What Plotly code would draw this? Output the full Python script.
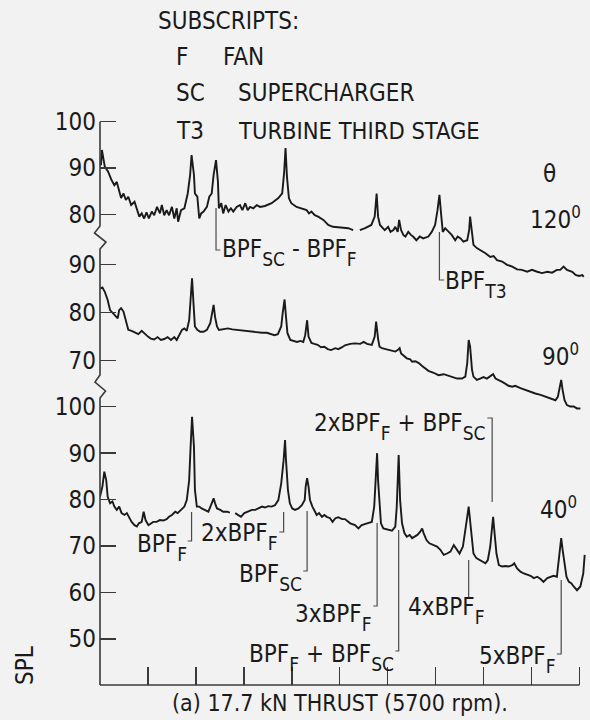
import plotly.graph_objects as go

# ---------------- data (frequency in kHz, SPL in dB) ----------------
freq_120 = [0.02,0.04,0.10,0.17,0.24,0.30,0.35,0.40,0.44,0.49,
            0.54,0.59,0.65,0.72,0.77,0.82,0.87,0.92,0.97,1.02,
            1.08,1.13,1.19,1.25,1.29,1.34,1.39,1.44,1.50,1.55,
            1.60,1.63,1.69,1.76,1.83,1.88,1.91,1.96,1.98,2.03,
            2.07,2.11,2.16,2.23,2.28,2.33,2.37,2.42,2.46,2.48,
            2.53,2.57,2.62,2.68,2.73,2.78,2.85,2.92,2.97,3.03,
            3.08,3.13,3.20,3.27,3.34,3.44,3.58,3.72,3.80,3.84,
            3.87,3.90,3.94,3.99,4.10,4.20,4.31,4.36,4.41,4.48,
            4.55,4.66,4.76,4.86,4.97,5.07,5.18,5.28,5.35,5.42,
            5.53,5.66,5.73,5.77,5.80,5.84,5.89,5.94,6.01,6.06,
            6.12,6.16,6.21,6.24,6.28,6.33,6.37,6.43,6.49,6.53,
            6.60,6.67,6.74,6.85,6.92,6.99,7.04,7.08,7.12,7.15,
            7.20,7.27,7.34,7.41,7.46,7.52,7.58,7.66,7.70,7.72,
            7.76,7.79,7.86,7.93,8.04,8.14,8.21,8.28,8.39,8.49,
            8.60,8.70,8.80,8.91,9.01,9.12,9.22,9.33,9.43,9.53,
            9.60,9.67,9.74,9.85,9.92,9.99,10.06,10.09]
spl_120 = [90.6,93.9,90.3,89.2,87.4,86.3,87.0,84.9,83.5,84.5,
           83.1,83.8,82.0,82.7,81.3,79.5,80.2,79.1,80.4,79.1,
           80.6,79.8,81.6,80.2,82.0,79.8,80.9,79.8,81.6,79.1,
           81.3,78.4,80.9,81.3,84.5,88.5,92.8,88.5,84.5,83.8,
           79.1,80.2,80.6,81.6,83.8,84.5,88.5,91.7,87.0,81.3,
           82.4,80.2,82.0,80.6,81.3,80.6,81.6,82.0,80.9,82.4,
           80.9,81.6,81.3,82.0,81.6,81.8,82.4,83.5,84.5,88.9,
           94.3,88.1,83.5,82.4,81.6,81.3,80.9,80.2,80.6,79.8,
           79.5,78.8,77.7,77.3,77.2,77.0,77.0,76.6,None,76.6,
           77.0,77.7,79.5,84.5,79.5,77.7,77.2,76.6,77.3,76.2,
           76.6,77.3,76.2,78.8,76.6,75.5,75.2,76.2,75.5,75.2,
           74.4,75.2,74.8,75.2,76.2,77.7,80.9,84.2,79.5,76.2,
           77.0,76.2,75.5,74.4,75.2,74.8,74.1,74.4,76.6,79.5,
           75.9,73.4,72.7,72.3,71.6,70.8,71.0,70.1,69.8,69.1,
           68.7,68.1,68.0,67.6,68.0,67.6,67.3,67.6,67.4,68.0,
           68.0,68.7,68.0,67.6,66.9,66.7,66.9,66.5]

freq_90 = [0.00,0.05,0.10,0.16,0.21,0.28,0.33,0.37,0.40,0.44,
           0.49,0.54,0.59,0.66,0.73,0.80,0.87,0.92,1.00,1.06,
           1.13,1.20,1.27,1.34,1.41,1.48,1.55,1.60,1.65,1.71,
           1.76,1.81,1.86,1.89,1.92,1.95,1.98,2.03,2.09,2.16,
           2.23,2.30,2.33,2.37,2.40,2.44,2.48,2.57,2.67,2.76,
           2.85,2.96,3.06,3.17,3.27,3.38,3.48,3.58,3.64,3.71,
           3.78,3.81,3.85,3.88,3.91,3.97,4.04,4.11,4.18,4.24,
           4.28,4.32,4.35,4.41,4.47,4.54,4.61,4.68,4.75,4.82,
           4.91,4.97,5.05,5.11,5.22,5.32,5.43,5.50,5.57,5.67,
           5.73,5.76,5.80,5.83,5.88,5.95,6.05,6.16,6.21,6.25,
           6.28,6.33,6.40,6.47,6.51,6.58,6.65,6.72,6.78,6.85,
           6.96,7.06,7.17,7.24,7.34,7.45,7.55,7.62,7.66,7.69,
           7.72,7.76,7.79,7.86,7.93,8.00,8.07,8.14,8.20,8.25,
           8.32,8.39,8.46,8.52,8.60,8.66,8.77,8.87,8.98,9.08,
           9.19,9.29,9.39,9.50,9.55,9.59,9.62,9.65,9.69,9.74,
           9.81,9.88,9.95,10.02]
spl_90 = [85.0,85.2,84.3,82.6,80.5,79.8,79.1,78.8,80.5,80.9,
          80.2,78.4,76.4,76.2,75.8,75.5,76.2,75.7,75.0,74.6,
          74.4,74.9,74.3,74.5,74.9,74.3,74.9,74.3,75.3,76.4,
          76.7,76.2,78.4,82.6,87.1,81.9,77.1,76.4,76.0,76.0,
          76.4,77.8,79.8,81.6,79.1,77.1,76.4,76.5,76.7,76.5,
          76.4,76.2,76.2,76.0,76.0,75.8,75.8,75.5,75.3,75.5,
          77.1,79.8,82.7,79.1,75.7,74.3,74.1,73.9,74.1,73.9,
          75.3,78.4,75.0,73.7,73.5,73.3,72.8,72.9,72.4,72.2,
          72.6,72.4,72.8,73.2,73.5,73.6,73.5,73.9,73.5,73.3,
          75.0,78.1,74.6,72.9,72.6,72.4,72.2,71.9,72.2,72.6,
          71.5,71.0,70.5,70.3,69.8,69.9,69.5,68.9,68.4,67.9,
          67.5,67.0,67.2,67.0,66.7,66.3,66.3,66.7,69.5,74.3,
          72.9,68.1,66.7,66.0,66.3,66.6,66.3,66.7,67.2,66.3,
          66.0,65.6,65.2,64.8,64.6,64.8,64.3,63.9,63.6,63.2,
          62.9,62.5,62.2,61.8,62.5,64.6,66.0,63.9,61.8,60.8,
          60.5,60.5,60.1,60.1]

freq_40 = [0.00,0.05,0.09,0.13,0.16,0.21,0.26,0.30,0.35,0.40,
           0.45,0.51,0.56,0.61,0.66,0.72,0.77,0.81,0.87,0.91,
           0.95,1.01,1.06,1.11,1.18,1.25,1.32,1.39,1.44,1.50,
           1.57,1.62,1.69,1.76,1.81,1.86,1.89,1.92,1.96,1.98,
           2.02,2.07,2.12,2.19,2.26,2.33,2.37,2.40,2.44,2.51,
           2.57,2.65,2.71,2.76,2.82,2.89,2.94,3.01,3.10,3.17,
           3.24,3.30,3.38,3.44,3.51,3.58,3.65,3.72,3.78,3.83,
           3.86,3.88,3.92,3.96,4.01,4.07,4.14,4.21,4.27,4.29,
           4.32,4.35,4.38,4.43,4.47,4.52,4.57,4.63,4.68,4.73,
           4.80,4.85,4.91,4.97,5.05,5.11,5.22,5.32,5.39,5.46,
           5.57,5.67,5.72,5.75,5.78,5.80,5.83,5.86,5.91,6.00,
           6.09,6.16,6.19,6.23,6.26,6.30,6.35,6.40,6.46,6.51,
           6.56,6.62,6.68,6.72,6.75,6.81,6.87,6.95,7.03,7.10,
           7.17,7.24,7.31,7.38,7.43,7.50,7.57,7.62,7.66,7.69,
           7.72,7.76,7.79,7.85,7.92,7.99,8.04,8.09,8.14,8.18,
           8.20,8.23,8.27,8.32,8.39,8.46,8.52,8.60,8.64,8.70,
           8.77,8.84,8.91,8.98,9.05,9.12,9.19,9.25,9.33,9.39,
           9.46,9.53,9.57,9.60,9.62,9.65,9.69,9.73,9.78,9.83,
           9.88,9.95,10.02,10.08,10.11]
spl_40 = [80.6,82.8,86.0,84.2,80.6,79.2,79.6,78.5,77.8,78.5,
          77.1,76.7,77.1,76.0,75.2,74.5,74.2,74.9,75.2,77.4,
          75.6,74.5,74.9,75.2,75.2,75.6,75.5,75.8,76.3,76.7,
          77.4,77.1,77.8,78.5,79.9,84.2,91.4,97.8,91.4,82.1,
          78.5,78.5,78.1,77.8,77.4,79.2,80.3,79.2,78.1,77.8,
          77.4,77.4,77.2,None,77.1,76.7,76.3,77.1,77.4,77.8,
          77.8,78.1,78.5,78.3,78.6,78.5,78.8,79.9,83.5,88.5,
          92.8,88.5,82.1,79.2,78.1,77.8,78.1,78.8,79.9,82.8,
          84.6,82.8,79.9,78.5,77.8,76.7,77.1,76.3,76.7,76.3,
          76.0,75.2,76.0,76.2,75.8,75.8,74.9,74.5,73.8,74.5,
          74.9,75.2,78.5,84.2,90.0,84.2,78.5,74.9,73.8,73.6,
          73.3,74.2,78.5,89.6,79.9,74.9,72.8,72.0,72.4,71.7,
          72.0,72.4,73.1,73.8,72.8,71.3,70.6,70.2,69.9,69.2,
          68.1,68.4,68.8,70.2,69.5,68.4,69.9,74.2,76.3,78.5,
          75.6,71.3,68.4,67.4,67.0,66.6,66.3,67.0,69.9,74.2,
          76.3,72.8,68.4,65.9,65.6,65.7,65.6,65.9,66.3,65.2,
          64.5,64.1,63.8,63.6,63.1,63.4,62.9,62.3,63.1,63.4,
          63.6,63.4,67.0,69.9,71.7,69.2,65.6,63.4,62.3,62.0,
          61.3,60.5,61.3,64.1,68.1]

ticks_120 = [80, 90, 100]
ticks_90 = [70, 80, 90]
ticks_40 = [50, 60, 70, 80, 90, 100]
freq_ticks = [0, 1, 2, 3, 4, 5, 6, 7, 8, 9, 10]

# ---------------- layout helpers ----------------
W, H = 590, 720
ML, MR, MT, MB = 100, 1, 100, 35
PW, PH = W - ML - MR, H - MT - MB


def xp(px):
    return (px - ML) / PW


def yp(py):
    return (H - MB - py) / PH


FONT = "Liberation Sans Narrow, Arial Narrow, DejaVu Sans Condensed, Liberation Sans, sans-serif"
INK = "#1a1a1a"
BG = "#f2f2f2"


def sub(s):
    return f'<span style="font-size:19px;baseline-shift:-9px">{s}</span>'


fig = go.Figure()
for fx, sy, ax in [(freq_120, spl_120, "y"), (freq_90, spl_90, "y2"), (freq_40, spl_40, "y3")]:
    fig.add_trace(go.Scatter(x=fx, y=sy, yaxis=ax, mode="lines",
                             line=dict(color=INK, width=1.9), connectgaps=False,
                             hoverinfo="skip", showlegend=False))


def yax(rng, vals, **kw):
    d = dict(range=rng, tickvals=vals, ticktext=[str(v) for v in vals],
             ticks="inside", ticklen=16, tickwidth=1.5, tickcolor="#3a3a3a",
             showline=False, showgrid=False, zeroline=False,
             tickfont=dict(family=FONT, size=24, color=INK),
             ticklabelstandoff=3, fixedrange=True)
    d.update(kw)
    return d


shapes = []
# y axis line with break symbols
axis_pts = [(100, 121.7), (100, 226), (94.5, 233), (106, 242), (100, 249),
            (100, 375), (95, 382), (105.5, 391), (100, 398), (100, 685)]
path = "M " + " L ".join(f"{xp(a):.5f},{yp(b):.5f}" for a, b in axis_pts)
shapes.append(dict(type="path", path=path, xref="paper", yref="paper",
                   line=dict(color="#3a3a3a", width=1.6)))
# x axis line
shapes.append(dict(type="line", xref="x", yref="paper", x0=0, x1=10, y0=0, y1=0,
                   line=dict(color="#3a3a3a", width=1.6)))

# leader lines: (peak freq, y from px, y to px, hook freq)
leaders = [(2.42, 208, 250, 2.51), (7.08, 232, 280, 7.18),
           (1.91, 512, 541, 1.83), (3.83, 512, 532, 3.74), (4.32, 511, 571, 4.24),
           (5.78, 523, 606, 5.70), (6.23, 530, 651, 6.16), (7.69, 560, 597, None),
           (9.62, 580, 654, 9.53), (8.18, 502, 418, 8.08)]
for f, ya, yb, hook in leaders:
    p = f"M {f},{yp(ya):.5f} L {f},{yp(yb):.5f}"
    if hook is not None:
        p += f" L {hook},{yp(yb):.5f}"
    shapes.append(dict(type="path", path=p, xref="x", yref="paper",
                       line=dict(color="#4a4a4a", width=1.2)))

ann = []


def label(text, x, y, xanchor="left", xref="paper", size=24, angle=0):
    ann.append(dict(text=text, x=x if xref != "paper" else xp(x), y=yp(y),
                    xref=xref, yref="paper", xanchor=xanchor, yanchor="middle",
                    showarrow=False, textangle=angle, borderpad=0,
                    font=dict(family=FONT, size=size, color=INK)))


label("SUBSCRIPTS:", 157, 21)
label("F", 175, 57)
label("FAN", 222, 57)
label("SC", 175, 93)
label("SUPERCHARGER", 237, 93)
label("T3", 175, 131)
label("TURBINE THIRD STAGE", 237, 131, size=23.5)
label("θ", 549, 174, xanchor="center")
label("120<sup>0</sup>", 529, 218)
label("90<sup>0</sup>", 541, 355)
label("40<sup>0</sup>", 539, 508)

label("BPF" + sub("SC") + " - BPF" + sub("F"), 221, 253)
label("BPF" + sub("T3"), 444, 284)
label("2xBPF" + sub("F") + " + BPF" + sub("SC"), 8.08, 426, xanchor="right", xref="x")
label("BPF" + sub("F"), 1.83, 547, xanchor="right", xref="x")
label("2xBPF" + sub("F"), 3.74, 536, xanchor="right", xref="x")
label("BPF" + sub("SC"), 4.24, 577, xanchor="right", xref="x")
label("3xBPF" + sub("F"), 5.70, 617, xanchor="right", xref="x")
label("BPF" + sub("F") + " + BPF" + sub("SC"), 6.16, 657, xanchor="right", xref="x")
label("4xBPF" + sub("F"), 446, 610, xanchor="center")
label("5xBPF" + sub("F"), 9.53, 659, xanchor="right", xref="x")
label("SPL", 25, 666, xanchor="center", angle=-90)
label("(a) 17.7 kN THRUST (5700 rpm).", 340, 703, xanchor="center", size=23)

fig.update_layout(
    width=W, height=H,
    margin=dict(l=ML, r=MR, t=MT, b=MB, pad=0),
    paper_bgcolor=BG, plot_bgcolor=BG,
    showlegend=False,
    xaxis=dict(range=[0, 10.2], tickvals=freq_ticks, ticks="inside", ticklen=18,
               tickwidth=1.5, tickcolor="#3a3a3a", showticklabels=False,
               showline=False, showgrid=False, zeroline=False, fixedrange=True),
    yaxis=yax([-21.66, 104.69], ticks_120),
    yaxis2=yax([2.72, 124.09], ticks_90, overlaying="y", anchor="x", side="left"),
    yaxis3=yax([40.10, 166.01], ticks_40, overlaying="y", anchor="x", side="left"),
    shapes=shapes,
    annotations=ann,
)

fig.write_html("out.html", include_plotlyjs=True, full_html=True,
               config={"displayModeBar": False, "staticPlot": True})
